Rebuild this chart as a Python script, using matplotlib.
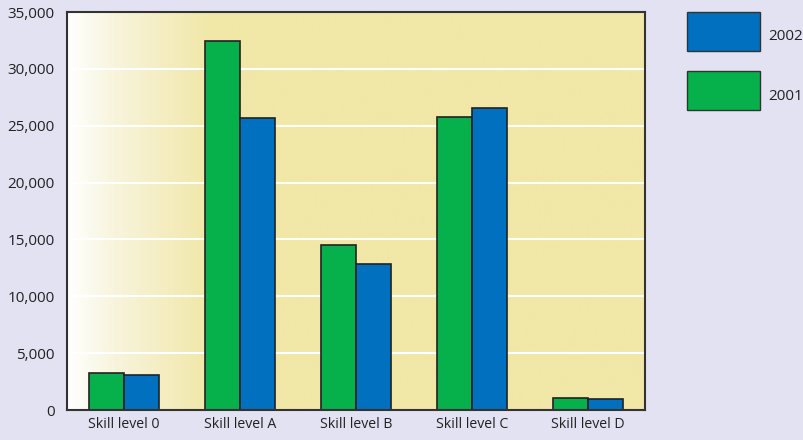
import numpy as np
import matplotlib
matplotlib.use("Agg")
import matplotlib.pyplot as plt
from matplotlib.patches import Rectangle
from matplotlib.colors import LinearSegmentedColormap

categories = ["Skill level 0", "Skill level A", "Skill level B", "Skill level C", "Skill level D"]
values_2001 = [3250, 32450, 14550, 25750, 1050]
values_2002 = [3050, 25700, 12800, 26550, 950]
yticks = [0, 5000, 10000, 15000, 20000, 25000, 30000, 35000]
series_names = ["2002", "2001"]

green = "#06B04A"
blue = "#0070BF"
bg = "#E2E2F2"
yellow = "#F1E7A7"

plt.rcParams['font.family'] = ['Open Sans', 'DejaVu Sans']

fig = plt.figure(figsize=(8.04, 4.40), dpi=100, facecolor=bg)
ax = fig.add_axes([67/804, 30/440, (645-67)/804, (410-12)/440])

x = np.arange(len(categories))
w = 0.30
ax.set_xlim(-0.49, len(categories) - 1 + 0.49)
ax.set_ylim(0, 35000)

# gradient background
cmap = LinearSegmentedColormap.from_list("g", [(0, "#FFFFFF"), (0.08, "#F8F4DC"), (0.25, yellow), (1, yellow)])
grad = np.linspace(0, 1, 256).reshape(1, -1)
ax.imshow(grad, cmap=cmap, aspect="auto", extent=[-0.49, len(categories) - 1 + 0.49, 0, 35000],
          zorder=0, interpolation="bicubic")

for yv in yticks[1:-1]:
    ax.axhline(yv, color="white", lw=1.5, zorder=1)

ax.bar(x - w/2, values_2001, w, color=green, edgecolor="#222222", lw=1.2, zorder=3)
ax.bar(x + w/2, values_2002, w, color=blue, edgecolor="#222222", lw=1.2, zorder=3)

ax.set_yticks(yticks)
ax.set_yticklabels([f"{v:,}" for v in yticks], fontsize=11, color="#222222")
ax.set_xticks(x)
ax.set_xticklabels(categories, fontsize=10.2, color="#222222")
ax.tick_params(length=0, pad=9)
ax.tick_params(axis="x", pad=5)
for s in ax.spines.values():
    s.set_color("#333333")
    s.set_linewidth(1.5)
    s.set_zorder(5)

# legend
leg_colors = [blue, green]
leg_y = [12, 71]
for name, c, yy in zip(series_names, leg_colors, leg_y):
    fig.add_artist(Rectangle((687/804, 1 - (yy + 39)/440), 73/804, 39/440,
                             transform=fig.transFigure, facecolor=c, edgecolor="#333333", lw=1))
    fig.text(768/804, 1 - (yy + 25)/440, name, fontsize=11, color="#222222", va="center", ha="left")

fig.savefig("out.png", dpi=100, facecolor=bg)
